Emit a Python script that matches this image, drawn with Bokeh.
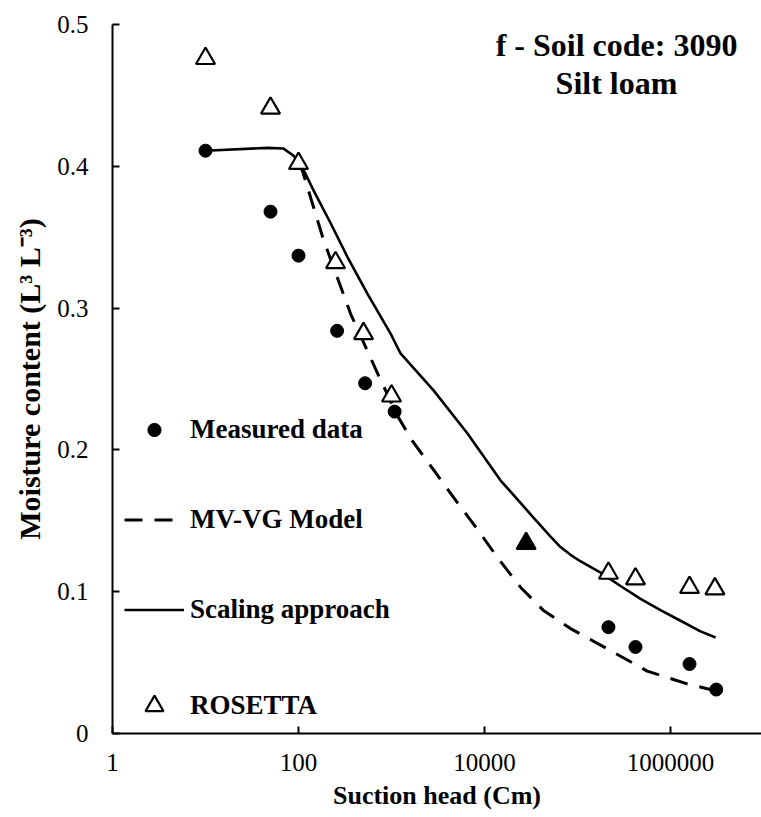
from bokeh.plotting import figure
from bokeh.models import (FixedTicker, CustomJSTickFormatter, Label, Legend,
                          LegendItem, Range1d)
from bokeh.embed import file_html
from bokeh.resources import INLINE

# ---- data ----
suction_measured = [10, 50, 100, 260, 520, 1080, 215000, 420000, 1600000, 3100000]
theta_measured = [0.411, 0.368, 0.337, 0.284, 0.247, 0.227, 0.075, 0.061, 0.049, 0.031]

suction_rosetta = [10, 50, 100, 250, 500, 1000, 215000, 420000, 1600000, 3000000]
theta_rosetta = [0.476, 0.441, 0.402, 0.332, 0.282, 0.238, 0.113, 0.109, 0.103, 0.102]

suction_rosetta_filled = [28000]
theta_rosetta_filled = [0.134]

suction_vg = [100, 110, 186, 363, 708, 1160, 1650, 2900, 4950, 8400, 13800, 24500,
              42700, 84100, 226000, 562000, 1510000, 3100000]
theta_vg = [0.402, 0.397, 0.348, 0.296, 0.254, 0.224, 0.207, 0.185, 0.164, 0.144,
            0.124, 0.103, 0.087, 0.074, 0.0585, 0.044, 0.035, 0.030]

suction_scaling = [10, 46, 69, 88, 105, 145, 221, 336, 552, 977, 1250, 2830, 6560,
                   14900, 33600, 51000, 65600, 84100, 107000, 177000, 290000, 476000,
                   780000, 1280000, 2100000, 3050000]
theta_scaling = [0.411, 0.413, 0.4125, 0.4076, 0.402, 0.383, 0.360, 0.336, 0.310,
                 0.282, 0.268, 0.242, 0.2116, 0.1784, 0.1523, 0.139, 0.1315, 0.126,
                 0.1215, 0.1135, 0.104, 0.095, 0.087, 0.0795, 0.072, 0.0677]

x_ticks = [1, 100, 10000, 1000000]
y_ticks = [0, 0.1, 0.2, 0.3, 0.4, 0.5]

FONT = "Liberation Serif"

p = figure(width=761, height=817, x_axis_type="log",
           x_range=Range1d(1, 10 ** 6.978), y_range=Range1d(0, 0.5),
           output_backend="svg", toolbar_location=None,
           min_border_left=112, min_border_top=24, min_border_right=0,
           min_border_bottom=84, background_fill_color="white",
           border_fill_color="white", outline_line_color=None)

p.xgrid.visible = False
p.ygrid.visible = False

# axes
p.xaxis.ticker = FixedTicker(ticks=x_ticks, minor_ticks=[])
p.yaxis.ticker = FixedTicker(ticks=y_ticks, minor_ticks=[])
p.xaxis.formatter = CustomJSTickFormatter(code="return tick.toFixed(0);")
p.yaxis.formatter = CustomJSTickFormatter(code="return tick == 0 ? '0' : tick.toFixed(1);")
for ax in (p.xaxis[0], p.yaxis[0]):
    ax.axis_line_color = "black"
    ax.axis_line_width = 2
    ax.major_tick_line_color = "black"
    ax.major_tick_line_width = 2
    ax.major_tick_in = 7
    ax.major_tick_out = 0
    ax.minor_tick_line_color = None
    ax.major_label_text_font = FONT
    ax.major_label_text_font_size = "25px"
    ax.major_label_text_color = "black"
    ax.axis_label_text_font = FONT
    ax.axis_label_text_font_style = "bold"
    ax.axis_label_text_color = "black"

p.xaxis.axis_label = "Suction head (Cm)"
p.xaxis.axis_label_text_font_size = "26px"
p.xaxis.major_label_standoff = 20
p.xaxis.axis_label_standoff = 7

p.yaxis.axis_label = "Moisture content (L\u00b3 L\u207b\u00b3)"
p.yaxis.axis_label_text_font_size = "30px"
p.yaxis.major_label_standoff = 24
p.yaxis.axis_label_standoff = 8

# series
r_scaling = p.line(suction_scaling, theta_scaling, line_color="black", line_width=2.6)
r_vg = p.line(suction_vg, theta_vg, line_color="black", line_width=3, line_dash="18 12")
r_meas = p.scatter(suction_measured, theta_measured, marker="circle", size=13,
                   fill_color="black", line_color="black")
r_ros = p.scatter(suction_rosetta, theta_rosetta, marker="triangle", size=19,
                  fill_color="white", line_color="black", line_width=2.2)
p.scatter(suction_rosetta_filled, theta_rosetta_filled, marker="triangle", size=19,
          fill_color="black", line_color="black", line_width=2.2)


def style_legend(lg, gh):
    lg.glyph_width = 60
    lg.glyph_height = gh
    lg.label_height = gh
    lg.padding = 0
    lg.margin = 0
    lg.label_standoff = 6
    lg.border_line_color = None
    lg.background_fill_alpha = 0
    lg.label_text_font = FONT
    lg.label_text_font_style = "bold"
    lg.label_text_font_size = "27px"
    lg.label_text_color = "black"


legend_a = Legend(items=[
    LegendItem(label="Measured data", renderers=[r_meas]),
    LegendItem(label="MV-VG Model", renderers=[r_vg]),
    LegendItem(label="Scaling approach", renderers=[r_scaling]),
], location=(12, 107))
style_legend(legend_a, 33)
legend_a.spacing = 57
p.add_layout(legend_a)

legend_b = Legend(items=[LegendItem(label="ROSETTA", renderers=[r_ros])],
                  location=(12, 5))
style_legend(legend_b, 45)
p.add_layout(legend_b)

for txt, ypix in (("f - Soil code: 3090", 689), ("Silt loam", 651)):
    p.add_layout(Label(x=504, y=ypix, x_units="screen", y_units="screen", text=txt,
                       text_font=FONT, text_font_style="bold", text_font_size="32px",
                       text_align="center", text_baseline="middle", text_color="black"))

open("out.html", "w").write(file_html(p, INLINE))
